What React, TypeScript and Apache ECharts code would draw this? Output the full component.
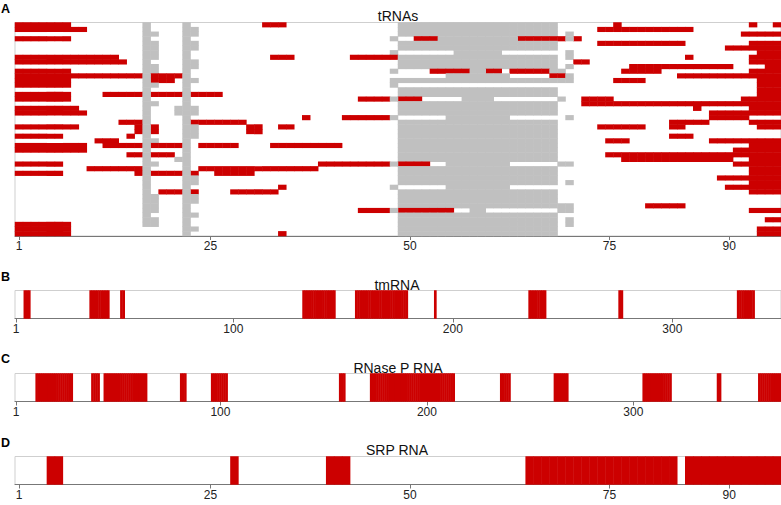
import { useEffect, useRef } from "react";
import * as echarts from "echarts";

const RED = "#cc0000";
const GRAY = "#c0c0c0";

// tRNA alignment rows: R = conserved/red positions, G = gap/gray positions
const trnaLength = 96;
const trnaRows: string[] = [
  "R 1-7,32-34,76,93,96 | G 17,22,49-68",
  "R 1-9,74-85 | G 17,22-23,49-68",
  "R 92-96 | G 17-18,22-23,49-68,70",
  "R 1-7,51-53,64-69,71 | G 17,22,48,54-63,70",
  "R 74-84,93-96 | G 17-18,22-23,49-68",
  "R 90-96 | G 17-18,22-23,49-68",
  "R 94-96 | G 17-18,22,48,56-61,70",
  "R 1-13,33-35,43-48,85,93-96 | G 17-18,22,49-68,70",
  "R 1-14,71-72,93-96 | G 17,22-23,49-68",
  "R 78-90,95-96 | G 17-18,22-23,49-68,70",
  "R 1-7,53-57,60-61,63-67,77-81,93-96 | G 17-18,22,48,58-59,68-69",
  "R 1-16,18-21,68-69,84-96 | G 17,22,55-62,70",
  "R 1-7,18-20,76-79,94-96 | G 17,22-23,48-70",
  "R 1-7,94-96 | G 17-18,22,48",
  "R 94-96 | G 17,22,49-68",
  "R 1-7,12-16,18-21,23-26,94-96 | G 17,22,49-68",
  "R 1-7,44-47,49-51,72-75,92-96 | G 17,22,48,57-60,69",
  "R 72-96 | G 17-18,22,49-68",
  "R 1-8,86,93-96 | G 17,21-23,49-68",
  "R 1-9,88-96 | G 17,21-23,49-68",
  "R 37,42-47,88-92 | G 17,22,48,55-62,70",
  "R 14-16,23-29,83-87,93-96 | G 17,22,49-68",
  "R 1-8,16,18,30-31,34-35,74-79,83-84,94-96 | G 17,22-23,49-68",
  "R 16,18,30-31 | G 17,22-23,49-68",
  "R 1-6,15,83-85 | G 17,22-23,49-68",
  "R 11-13,75-77,88-96 | G 17-18,22,49-68",
  "R 1-9,12-16,18-21,24-28,33-41,93-96 | G 17,22,49-68",
  "R 1-9,91-96 | G 17,22,49-68",
  "R 15-16,18-20,75-96 | G 17,22,49-68",
  "R 77-90,93-96 | G 17,21-22,49-68",
  "R 1-6,39-47,49-52,91-96 | G 17-18,22,48,55-62,69-70",
  "R 10-16,24-38,93-96 | G 17,22,49-68",
  "R 1-6,16,18-21,23,26-30,93-96 | G 17,22,49-68",
  "R 89-96 | G 17,22-23,49-68",
  "R 93-96 | G 17,22-23,49-68,70",
  "R 34,90-96 | G 17,22,48,55-62",
  "R 19-21,23,28-33,93-96 | G 17,22,49-68",
  "G 17-18,22-23,49-68",
  "G 17-18,22-23,49-68",
  "R 80-84 | G 17-18,22,49-70",
  "R 44-47,49-55,93-96 | G 17-18,22,48,58-59,69-70",
  "G 17,22-23,49-68",
  "R 95-96 | G 17-18,22,49-68,70",
  "R 1-7 | G 17-18,22,49-68,70",
  "R 1-7,94-96 | G 22-23,49-68",
  "R 1-7,34,94-96 | G 22,49-68",
];
const trnaTicks = ["1", "25", "50", "75", "90"];

const tmrnaLength = 349;
const tmrnaRed: number[][] = [
  [5, 7], [35, 43], [49, 50], [132, 146], [156, 179], [192, 192],
  [235, 242], [276, 277], [330, 337],
];
const tmrnaTicks = ["1", "100", "200", "300"];

const rnasepLength = 371;
const rnasepRed: number[][] = [
  [11, 28], [38, 41], [44, 64], [81, 83], [96, 103], [158, 160],
  [173, 213], [236, 240], [262, 268], [305, 318], [341, 342], [361, 371],
];
const rnasepTicks = ["1", "100", "200", "300"];

const srpLength = 96;
const srpRed: number[][] = [[5, 6], [28, 28], [40, 42], [65, 83], [85, 96]];
const srpTicks = ["1", "25", "50", "75", "90"];

function parseRanges(s: string): number[][] {
  return s
    .split(",")
    .map((t) => t.trim())
    .filter((t) => t.length)
    .map((t) => {
      const [a, b] = t.split("-").map(Number);
      return [a, b === undefined ? a : b];
    });
}

function trnaCells(): number[][] {
  const out: number[][] = [];
  trnaRows.forEach((row, r) => {
    const cell = new Map<number, number>();
    row.split("|").forEach((part) => {
      const p = part.trim();
      const kind = p[0];
      const ranges = parseRanges(p.slice(1));
      ranges.forEach(([a, b]) => {
        for (let c = a; c <= b; c++) {
          if (kind === "R") cell.set(c, 1);
          else if (!cell.has(c)) cell.set(c, 2);
        }
      });
    });
    cell.forEach((v, c) => out.push([c - 1, r, v]));
  });
  return out;
}

function lineCells(ranges: number[][]): number[][] {
  const out: number[][] = [];
  ranges.forEach(([a, b]) => {
    for (let c = a; c <= b; c++) out.push([c - 1, 0, 1]);
  });
  return out;
}

function cats(n: number): string[] {
  return Array.from({ length: n }, (_, i) => String(i + 1));
}

const FONT = "Liberation Sans, Arial, sans-serif";

function makeX(gridIndex: number, n: number, ticks: string[]) {
  const show = (_i: number, v: string) => ticks.includes(v);
  return {
    type: "category",
    gridIndex,
    data: cats(n),
    boundaryGap: true,
    axisLine: { show: true, lineStyle: { color: "#777", width: 1 } },
    axisTick: { show: true, alignWithLabel: true, interval: show, length: 4, lineStyle: { color: "#777" } },
    axisLabel: { show: true, interval: show, margin: 4, fontSize: 12, color: "#222", fontFamily: FONT },
    splitLine: { show: false },
  };
}

function makeY(gridIndex: number, n: number) {
  return { type: "category", gridIndex, data: cats(n), inverse: true, show: false };
}

export default function App() {
  const ref = useRef<HTMLDivElement>(null);
  useEffect(() => {
    if (!ref.current) return;
    const chart = echarts.init(ref.current, null, { renderer: "svg" });
    const gridBase = { left: 15, right: 0, show: true, borderColor: "#cfcfcf", borderWidth: 1, backgroundColor: "transparent" };
    const heat = (i: number, data: number[][]) => ({
      type: "heatmap",
      xAxisIndex: i,
      yAxisIndex: i,
      data,
      progressive: 0,
      silent: true,
      emphasis: { disabled: true },
      itemStyle: { borderWidth: 0 },
    });
    const title = (text: string, x: number, y: number) => ({
      type: "text",
      x,
      y,
      style: { text, fill: "#111", font: `14px ${FONT}`, textAlign: "center", textVerticalAlign: "middle" },
    });
    const letter = (text: string, y: number) => ({
      type: "text",
      x: 1,
      y,
      style: { text, fill: "#000", font: `bold 12.5px ${FONT}`, textAlign: "left", textVerticalAlign: "middle" },
    });
    chart.setOption({
      animation: false,
      grid: [
        { ...gridBase, top: 22.5, height: 213.5 },
        { ...gridBase, top: 290.5, height: 28 },
        { ...gridBase, top: 373.5, height: 28 },
        { ...gridBase, top: 456.5, height: 28 },
      ],
      xAxis: [
        makeX(0, trnaLength, trnaTicks),
        makeX(1, tmrnaLength, tmrnaTicks),
        makeX(2, rnasepLength, rnasepTicks),
        makeX(3, srpLength, srpTicks),
      ],
      yAxis: [makeY(0, trnaRows.length), makeY(1, 1), makeY(2, 1), makeY(3, 1)],
      visualMap: {
        type: "piecewise",
        show: false,
        dimension: 2,
        seriesIndex: [0, 1, 2, 3],
        pieces: [
          { value: 1, color: RED },
          { value: 2, color: GRAY },
        ],
      },
      series: [heat(0, trnaCells()), heat(1, lineCells(tmrnaRed)), heat(2, lineCells(rnasepRed)), heat(3, lineCells(srpRed))],
      graphic: [
        title("tRNAs", 398, 16),
        title("tmRNA", 397, 284.5),
        title("RNase P RNA", 398, 367.5),
        title("SRP RNA", 397, 450),
        letter("A", 8.5),
        letter("B", 276.5),
        letter("C", 359),
        letter("D", 442.5),
      ],
    });
    return () => chart.dispose();
  }, []);
  return (
    <div
      ref={ref}
      style={{ position: "fixed", left: 0, top: 0, width: 781, height: 505, background: "#fff" }}
    />
  );
}
